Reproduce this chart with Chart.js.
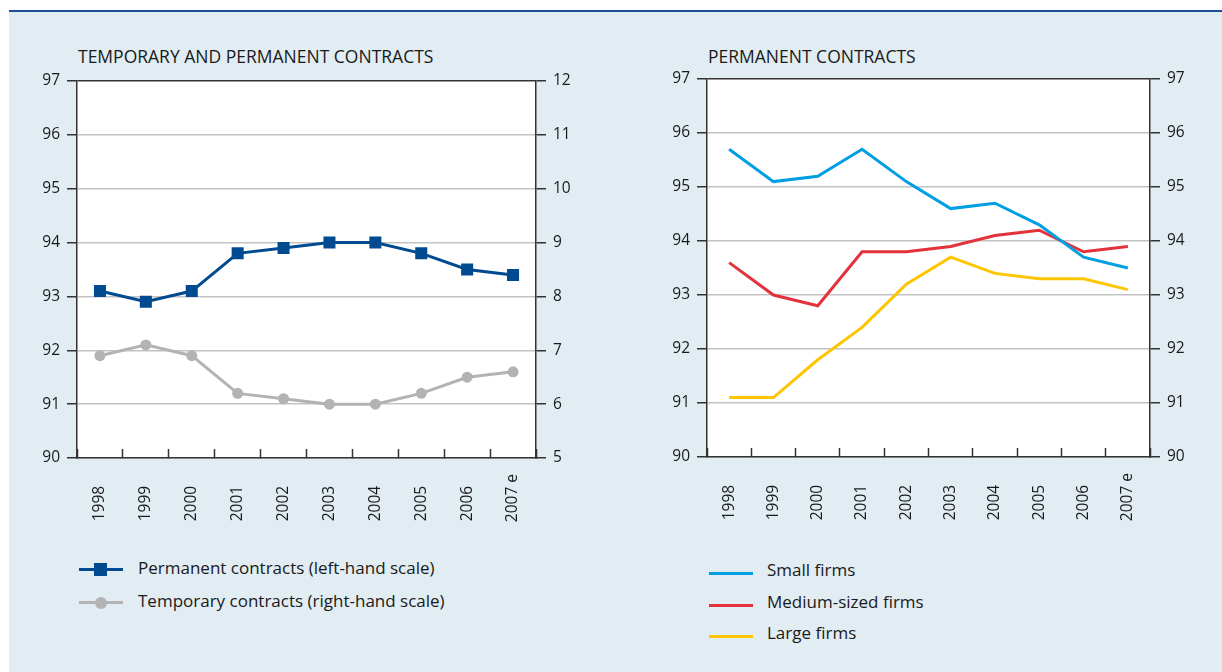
<!DOCTYPE html>
<html>
<head>
<meta charset="utf-8">
<script src="https://cdn.jsdelivr.net/npm/chart.js@4/dist/chart.umd.min.js"></script>
<style>
  body { margin: 0; background: #fff; font-family: "Open Sans", "Noto Sans", sans-serif; color: #1a1a1a; }
  #panel { position: absolute; left: 9px; top: 10px; right: 0; bottom: 0; background: #e1ecf3; border-top: 2px solid #1b4f91; }
  .title { position: absolute; font-size: 17.5px; line-height: 20px; white-space: nowrap; }
  .chartbox { position: absolute; }
  .legend { position: absolute; font-size: 17px; }
  .legend .row { position: absolute; white-space: nowrap; }
  .legend .ln { position: absolute; left: 0; width: 44px; height: 3px; }
  .legend .mk { position: absolute; }
  .legend .tx { position: absolute; line-height: 20px; }
</style>
</head>
<body>
<div id="panel"></div>

<div class="title" style="left:78px; top:46px;">TEMPORARY AND PERMANENT CONTRACTS</div>
<div class="title" style="left:708px; top:46px;">PERMANENT CONTRACTS</div>

<div class="chartbox" style="left:0; top:60px; width:610px; height:480px;"><canvas id="leftChart"></canvas></div>
<div class="chartbox" style="left:620px; top:60px; width:602px; height:480px;"><canvas id="rightChart"></canvas></div>

<div class="legend" id="leftLegend" style="left:79px; top:560px;"></div>
<div class="legend" id="rightLegend" style="left:709px; top:561px;"></div>

<script>
// anos (o último é estimativa)
const years = ['1998', '1999', '2000', '2001', '2002', '2003', '2004', '2005', '2006', '2007 e'];

// gráfico da esquerda
const permanent = [93.1, 92.9, 93.1, 93.8, 93.9, 94.0, 94.0, 93.8, 93.5, 93.4];
const temporary = [6.9, 7.1, 6.9, 6.2, 6.1, 6.0, 6.0, 6.2, 6.5, 6.6];

// gráfico da direita
const smallFirms = [95.7, 95.1, 95.2, 95.7, 95.1, 94.6, 94.7, 94.3, 93.7, 93.5];
const mediumFirms = [93.6, 93.0, 92.8, 93.8, 93.8, 93.9, 94.1, 94.2, 93.8, 93.9];
const largeFirms = [91.1, 91.1, 91.8, 92.4, 93.2, 93.7, 93.4, 93.3, 93.3, 93.1];

const leftNames = ['Permanent contracts (left-hand scale)', 'Temporary contracts (right-hand scale)'];
const rightNames = ['Small firms', 'Medium-sized firms', 'Large firms'];

const DARK = '#333333';
const GRID = '#c3c3c3';
const FONT = '"Open Sans", "Noto Sans", sans-serif';
const TICK_SIZE = 15.5;
const colors = {
    permanent: '#004a8f',
    temporary: '#b3b3b3',
    small: '#009fe3',
    medium: '#e3323b',
    large: '#fdc600'
};

Chart.defaults.font.family = FONT;
Chart.defaults.font.size = TICK_SIZE;
Chart.defaults.color = '#1a1a1a';

// deixa os rótulos girados alinhados pela base (o "2007 e" é mais comprido)
function padYear(label) {
    return label.indexOf(' e') >= 0 ? label : label + '\u2002\u2009\u200A';
}

function xAxis(height) {
    return {
        type: 'category',
        position: 'bottom',
        offset: true,
        afterFit: (scale) => { scale.height = height; },
        grid: {
            offset: true,
            drawOnChartArea: false,
            drawTicks: true,
            tickLength: -9,
            tickColor: DARK,
            tickWidth: 1.5
        },
        border: { display: true, color: DARK, width: 1.5 },
        ticks: {
            minRotation: 90,
            maxRotation: 90,
            autoSkip: false,
            padding: 25,
            font: { size: TICK_SIZE },
            callback: function (value) { return padYear(this.getLabelForValue(value)); }
        }
    };
}

function yAxis(position, min, max, width, onChart) {
    return {
        type: 'linear',
        position: position,
        min: min,
        max: max,
        afterFit: (scale) => { scale.width = width; },
        grid: {
            drawOnChartArea: onChart,
            color: (ctx) => (ctx.tick && ctx.tick.value === max ? DARK : GRID),
            lineWidth: 1.5,
            drawTicks: true,
            tickLength: 10,
            tickColor: DARK,
            tickWidth: 1.5
        },
        border: { display: true, color: DARK, width: 1.5 },
        ticks: { stepSize: 1, padding: 7, font: { size: TICK_SIZE } }
    };
}

// fundo branco da área do gráfico
const plotBackground = {
    id: 'plotBackground',
    beforeDraw(chart) {
        const { ctx, chartArea } = chart;
        ctx.save();
        ctx.fillStyle = '#ffffff';
        ctx.fillRect(chartArea.left, chartArea.top, chartArea.right - chartArea.left, chartArea.bottom - chartArea.top);
        ctx.restore();
    }
};

new Chart(document.getElementById('leftChart'), {
    type: 'line',
    data: {
        labels: years,
        datasets: [{
            label: leftNames[0],
            data: permanent,
            yAxisID: 'y',
            borderColor: colors.permanent,
            backgroundColor: colors.permanent,
            borderWidth: 3,
            pointStyle: 'rect',
            pointRadius: 8.5,
            pointBorderWidth: 0,
            tension: 0
        }, {
            label: leftNames[1],
            data: temporary,
            yAxisID: 'y2',
            borderColor: colors.temporary,
            backgroundColor: colors.temporary,
            borderWidth: 3,
            pointStyle: 'circle',
            pointRadius: 5.5,
            pointBorderWidth: 0,
            tension: 0
        }]
    },
    options: {
        responsive: true,
        maintainAspectRatio: false,
        animation: false,
        layout: { padding: { top: 21, left: 0, right: 0, bottom: 0 } },
        plugins: { legend: { display: false }, tooltip: { enabled: false } },
        scales: {
            x: xAxis(82),
            y: yAxis('left', 90, 97, 77, true),
            y2: yAxis('right', 5, 12, 74, false)
        }
    },
    plugins: [plotBackground]
});

new Chart(document.getElementById('rightChart'), {
    type: 'line',
    data: {
        labels: years,
        datasets: [
            { label: rightNames[0], data: smallFirms, borderColor: colors.small },
            { label: rightNames[1], data: mediumFirms, borderColor: colors.medium },
            { label: rightNames[2], data: largeFirms, borderColor: colors.large }
        ].map(d => Object.assign(d, {
            yAxisID: 'y',
            borderWidth: 3,
            pointRadius: 0,
            tension: 0
        }))
    },
    options: {
        responsive: true,
        maintainAspectRatio: false,
        animation: false,
        layout: { padding: { top: 19, left: 0, right: 0, bottom: 0 } },
        plugins: { legend: { display: false }, tooltip: { enabled: false } },
        scales: {
            x: xAxis(83),
            y: yAxis('left', 90, 97, 87, true),
            y2: yAxis('right', 90, 97, 72, false)
        }
    },
    plugins: [plotBackground]
});

// legendas em HTML
function buildLegend(el, items, rowGap, lineTop, textTop) {
    items.forEach((it, i) => {
        const row = document.createElement('div');
        row.className = 'row';
        row.style.top = (i * rowGap) + 'px';
        let html = `<div class="ln" style="top:${lineTop}px; background:${it.color}"></div>`;
        if (it.marker === 'rect') {
            html += `<div class="mk" style="left:15px; top:${lineTop - 5}px; width:13px; height:13px; background:${it.color}"></div>`;
        } else if (it.marker === 'circle') {
            html += `<div class="mk" style="left:16px; top:${lineTop - 4.5}px; width:12px; height:12px; border-radius:50%; background:${it.color}"></div>`;
        }
        html += `<div class="tx" style="left:${it.textLeft}px; top:${textTop}px;">${it.label}</div>`;
        row.innerHTML = html;
        el.appendChild(row);
    });
}

buildLegend(document.getElementById('leftLegend'), [
    { label: leftNames[0], color: colors.permanent, marker: 'rect', textLeft: 59 },
    { label: leftNames[1], color: colors.temporary, marker: 'circle', textLeft: 59 }
], 33, 8, -2);

buildLegend(document.getElementById('rightLegend'), [
    { label: rightNames[0], color: colors.small, textLeft: 58 },
    { label: rightNames[1], color: colors.medium, textLeft: 58 },
    { label: rightNames[2], color: colors.large, textLeft: 58 }
], 31.5, 11, -1);
</script>
</body>
</html>
